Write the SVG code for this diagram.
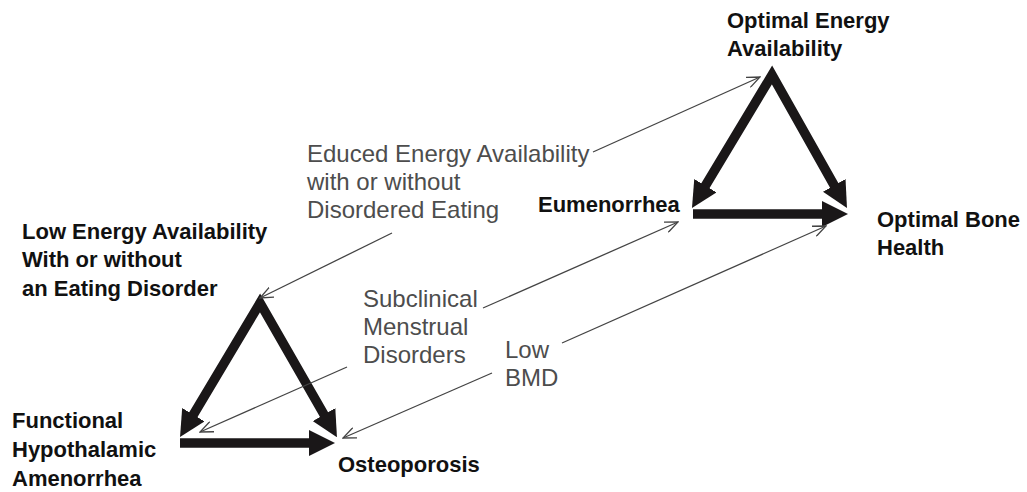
<svg xmlns="http://www.w3.org/2000/svg" width="1027" height="492" viewBox="0 0 1027 492">
<style>
.lbl{font-family:"Liberation Sans",Arial,sans-serif;font-size:22px;font-weight:bold;fill:#111}
.gry{font-family:"Liberation Sans",Arial,sans-serif;font-size:24px;fill:#4d4d4d}
.thick{fill:none;stroke:#1a1718;stroke-width:9.5;stroke-linejoin:miter;stroke-miterlimit:10}
.thin{fill:none;stroke:#444;stroke-width:1.3}
</style>
<defs>
<marker id="big" markerUnits="userSpaceOnUse" viewBox="0 0 26 26" markerWidth="26" markerHeight="26" refX="12" refY="13" orient="auto-start-reverse">
<path d="M0,0 L26,13 L0,26 z" fill="#1a1718"/>
</marker>
<marker id="open" markerUnits="userSpaceOnUse" viewBox="0 0 14 12" markerWidth="14" markerHeight="12" refX="13" refY="6" orient="auto">
<path d="M0,0.5 L13,6 L0,11.5" fill="none" stroke="#444" stroke-width="1.3"/>
</marker>
</defs>
<rect width="1027" height="492" fill="#fff"/>
<g id="connectors">
<path class="thick" d="M187.2,425 L260,303 L330,425" marker-start="url(#big)" marker-end="url(#big)"/>
<path class="thick" d="M180,443 L321,443" marker-end="url(#big)"/>
<path class="thick" d="M699.2,196 L772,75 L840.1,195.8" marker-start="url(#big)" marker-end="url(#big)"/>
<path class="thick" d="M693,214 L834,214" marker-end="url(#big)"/>
<path class="thin" d="M593,152 L760,77" marker-end="url(#open)"/>
<path class="thin" d="M392,233 L260,298" marker-end="url(#open)"/>
<path class="thin" d="M483,308 L678,222" marker-end="url(#open)"/>
<path class="thin" d="M347,367 L200,432" marker-end="url(#open)"/>
<path class="thin" d="M562,343 L826,226" marker-end="url(#open)"/>
<path class="thin" d="M492,373 L343,438" marker-end="url(#open)"/>
</g>
<g id="optimal-energy"><text class="lbl" x="727" y="28">Optimal Energy</text><text class="lbl" x="727" y="56">Availability</text></g>
<g id="eumenorrhea"><text class="lbl" x="538" y="212">Eumenorrhea</text></g>
<g id="optimal-bone"><text class="lbl" x="877" y="227">Optimal Bone</text><text class="lbl" x="877" y="255">Health</text></g>
<g id="low-energy"><text class="lbl" x="22" y="239">Low Energy Availability</text><text class="lbl" x="22" y="267">With or without</text><text class="lbl" x="22" y="296">an Eating Disorder</text></g>
<g id="fha"><text class="lbl" x="12" y="428">Functional</text><text class="lbl" x="12" y="457">Hypothalamic</text><text class="lbl" x="12" y="486">Amenorrhea</text></g>
<g id="osteoporosis"><text class="lbl" x="338" y="472">Osteoporosis</text></g>
<g id="reduced-ea"><text class="gry" x="307" y="162">Educed Energy Availability</text><text class="gry" x="307" y="190">with or without</text><text class="gry" x="307" y="218">Disordered Eating</text></g>
<g id="subclinical"><text class="gry" x="363" y="307">Subclinical</text><text class="gry" x="363" y="335">Menstrual</text><text class="gry" x="363" y="363">Disorders</text></g>
<g id="low-bmd"><text class="gry" x="505" y="358">Low</text><text class="gry" x="505" y="386">BMD</text></g>
</svg>
